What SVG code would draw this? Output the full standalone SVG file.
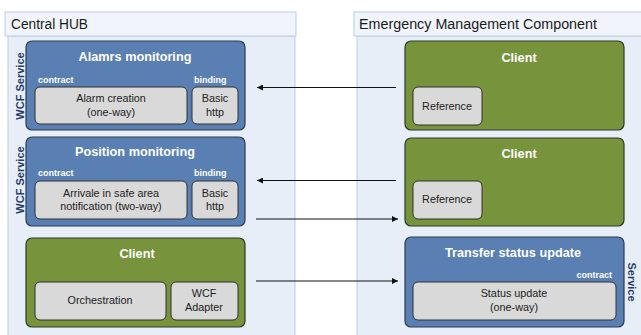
<svg xmlns="http://www.w3.org/2000/svg" width="641" height="335" viewBox="0 0 641 335">
<style>
.cont{fill:#E8EEF8;stroke:#B9CDE6;stroke-width:1}
.hdr{fill:#F1F5FB;stroke:#B9CDE6;stroke-width:1}
.htxt{font-family:"Liberation Sans",Arial,sans-serif;font-size:14px;fill:#1a1a1a}
.blue{fill:#5A7FB3;stroke:#2E3B4E;stroke-width:1.2}
.green{fill:#77933C;stroke:#2E3B2A;stroke-width:1.2}
.grey{fill:#D9D9D9;stroke:#303030;stroke-width:1}
.title{font-family:"Liberation Sans",Arial,sans-serif;font-size:12.7px;font-weight:bold;fill:#fff;text-anchor:middle}
.small{font-family:"Liberation Sans",Arial,sans-serif;font-size:9px;font-weight:bold;fill:#fff}
.in{font-family:"Liberation Sans",Arial,sans-serif;font-size:10.8px;fill:#222;text-anchor:middle}
.vert{font-family:"Liberation Sans",Arial,sans-serif;font-size:11px;font-weight:bold;fill:#1F3A6B;text-anchor:middle}
.conn{stroke:#111;stroke-width:1;fill:none}
</style>
<defs>
<marker id="ah" viewBox="0 0 10 10" refX="10" refY="5" markerWidth="8" markerHeight="6" orient="auto" markerUnits="userSpaceOnUse">
<path d="M0,0 L10,5 L0,10 z" fill="#111"/>
</marker>
</defs>
<g id="central-hub">
<rect class="cont" x="8" y="36" width="287" height="305"/>
<rect class="hdr" x="5" y="12" width="291" height="24"/>
<text class="htxt" x="11" y="29" textLength="77" lengthAdjust="spacingAndGlyphs">Central HUB</text>
</g>
<g id="emergency">
<rect class="cont" x="357" y="36" width="290" height="305"/>
<rect class="hdr" x="354" y="12" width="292" height="24"/>
<text class="htxt" x="359" y="29" textLength="238" lengthAdjust="spacingAndGlyphs">Emergency Management Component</text>
</g>
<g id="alarms">
<rect class="blue" x="26" y="41" width="219" height="89" rx="6"/>
<text class="title" x="135" y="61">Alamrs monitoring</text>
<text class="small" x="38" y="83">contract</text>
<text class="small" x="194" y="83">binding</text>
<rect class="grey" x="35" y="87" width="152" height="37" rx="5"/>
<text class="in" x="111" y="102">Alarm creation</text>
<text class="in" x="111" y="116">(one-way)</text>
<rect class="grey" x="192" y="87" width="46" height="37" rx="5"/>
<text class="in" x="215" y="102">Basic</text>
<text class="in" x="215" y="116">http</text>
<text class="vert" transform="translate(24,86) rotate(-90)">WCF Service</text>
</g>
<g id="position">
<rect class="blue" x="26" y="137" width="219" height="89" rx="6"/>
<text class="title" x="135" y="156">Position monitoring</text>
<text class="small" x="38" y="176">contract</text>
<text class="small" x="194" y="176">binding</text>
<rect class="grey" x="35" y="181" width="152" height="38" rx="5"/>
<text class="in" x="111" y="197">Arrivale in safe area</text>
<text class="in" x="111" y="210">notification (two-way)</text>
<rect class="grey" x="192" y="181" width="46" height="38" rx="5"/>
<text class="in" x="215" y="197">Basic</text>
<text class="in" x="215" y="210">http</text>
<text class="vert" transform="translate(24,180) rotate(-90)">WCF Service</text>
</g>
<g id="client-hub">
<rect class="green" x="26" y="238" width="219" height="89" rx="6"/>
<text class="title" x="137" y="258">Client</text>
<rect class="grey" x="35" y="282" width="131" height="38" rx="5"/>
<text class="in" x="100" y="304">Orchestration</text>
<rect class="grey" x="171" y="282" width="67" height="38" rx="5"/>
<text class="in" x="204" y="297">WCF</text>
<text class="in" x="204" y="311">Adapter</text>
</g>
<g id="client-1">
<rect class="green" x="405" y="41" width="219" height="89" rx="6"/>
<text class="title" x="519" y="62">Client</text>
<rect class="grey" x="413" y="87" width="69" height="38" rx="5"/>
<text class="in" x="447" y="110">Reference</text>
</g>
<g id="client-2">
<rect class="green" x="405" y="138" width="219" height="88" rx="6"/>
<text class="title" x="519" y="158">Client</text>
<rect class="grey" x="413" y="181" width="69" height="38" rx="5"/>
<text class="in" x="447" y="203">Reference</text>
</g>
<g id="transfer">
<rect class="blue" x="405" y="237" width="219" height="90" rx="6"/>
<text class="title" x="513" y="257">Transfer status update</text>
<text class="small" x="612" y="278" text-anchor="end">contract</text>
<rect class="grey" x="413" y="282" width="203" height="38" rx="5"/>
<text class="in" x="514" y="297">Status update</text>
<text class="in" x="514" y="311">(one-way)</text>
<text class="vert" transform="translate(628,282) rotate(90)">Service</text>
</g>
<g id="connectors">
<line class="conn" x1="396" y1="87.5" x2="257" y2="87.5" marker-end="url(#ah)"/>
<line class="conn" x1="396" y1="180.5" x2="257" y2="180.5" marker-end="url(#ah)"/>
<line class="conn" x1="256" y1="219" x2="398" y2="219" marker-end="url(#ah)"/>
<line class="conn" x1="256" y1="281" x2="398" y2="281" marker-end="url(#ah)"/>
</g>
</svg>
